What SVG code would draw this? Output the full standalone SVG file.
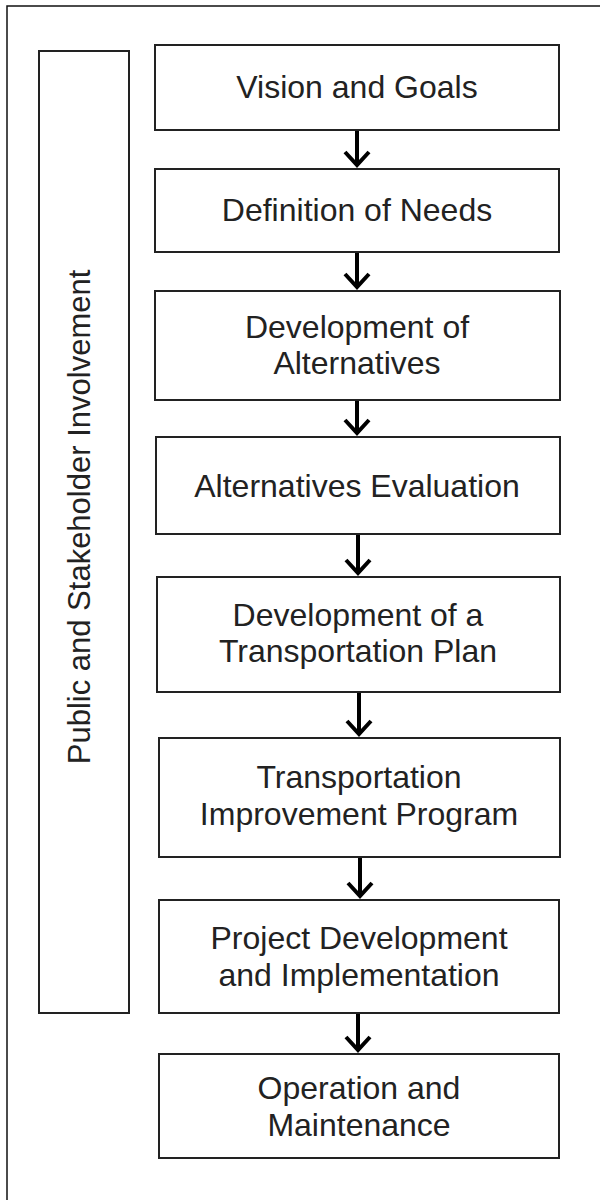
<svg xmlns="http://www.w3.org/2000/svg" width="600" height="1200" viewBox="0 0 600 1200">
  <style>
    .box { fill: #ffffff; stroke: #222222; stroke-width: 2; }
    .lbl { font-family: "Liberation Sans", Arial, sans-serif; font-size: 32px; fill: #222222; text-anchor: middle; }
    .side { font-family: "Liberation Sans", Arial, sans-serif; font-size: 31px; fill: #222222; text-anchor: middle; }
    .conn { stroke: #000000; stroke-width: 4; fill: none; }
    .frame { stroke: #111111; stroke-width: 1.5; fill: none; }
  </style>
  <defs>
    <marker id="chev" markerUnits="userSpaceOnUse" viewBox="-20 -20 40 40" markerWidth="40" markerHeight="40" refX="0" refY="0" orient="auto" overflow="visible">
      <path d="M-13,-12 L0,0 L-13,12" fill="none" stroke="#000000" stroke-width="4" stroke-linejoin="miter"/>
    </marker>
  </defs>
  <rect width="600" height="1200" fill="#ffffff"/>
  <path class="frame" d="M7,1200 V6 H600"/>

  <g id="side">
    <rect class="box" x="39" y="51" width="90" height="962"/>
    <text class="side" transform="translate(90,517) rotate(-90)">Public and Stakeholder Involvement</text>
  </g>

  <g id="n1">
    <rect class="box" x="155" y="45" width="404" height="85"/>
    <text class="lbl" x="357" y="98">Vision and Goals</text>
  </g>
  <g id="n2">
    <rect class="box" x="155" y="169" width="404" height="83"/>
    <text class="lbl" x="357" y="221">Definition of Needs</text>
  </g>
  <g id="n3">
    <rect class="box" x="155" y="291" width="405" height="109"/>
    <text class="lbl" x="357" y="338">Development of</text>
    <text class="lbl" x="357" y="374">Alternatives</text>
  </g>
  <g id="n4">
    <rect class="box" x="156" y="437" width="404" height="97"/>
    <text class="lbl" x="357" y="497">Alternatives Evaluation</text>
  </g>
  <g id="n5">
    <rect class="box" x="157" y="577" width="403" height="115"/>
    <text class="lbl" x="358" y="626">Development of a</text>
    <text class="lbl" x="358" y="662">Transportation Plan</text>
  </g>
  <g id="n6">
    <rect class="box" x="159" y="738" width="401" height="119"/>
    <text class="lbl" x="359" y="788">Transportation</text>
    <text class="lbl" x="359" y="825">Improvement Program</text>
  </g>
  <g id="n7">
    <rect class="box" x="159" y="900" width="400" height="113"/>
    <text class="lbl" x="359" y="949">Project Development</text>
    <text class="lbl" x="359" y="986">and Implementation</text>
  </g>
  <g id="n8">
    <rect class="box" x="159" y="1054" width="400" height="104"/>
    <text class="lbl" x="359" y="1099">Operation and</text>
    <text class="lbl" x="359" y="1136">Maintenance</text>
  </g>

  <g id="connectors">
    <line class="conn" x1="357" y1="131" x2="357" y2="165" marker-end="url(#chev)"/>
    <line class="conn" x1="357" y1="253" x2="357" y2="287" marker-end="url(#chev)"/>
    <line class="conn" x1="357" y1="401" x2="357" y2="433" marker-end="url(#chev)"/>
    <line class="conn" x1="358" y1="535" x2="358" y2="573" marker-end="url(#chev)"/>
    <line class="conn" x1="359" y1="693" x2="359" y2="734" marker-end="url(#chev)"/>
    <line class="conn" x1="360" y1="858" x2="360" y2="896" marker-end="url(#chev)"/>
    <line class="conn" x1="358" y1="1014" x2="358" y2="1050" marker-end="url(#chev)"/>
  </g>
</svg>
